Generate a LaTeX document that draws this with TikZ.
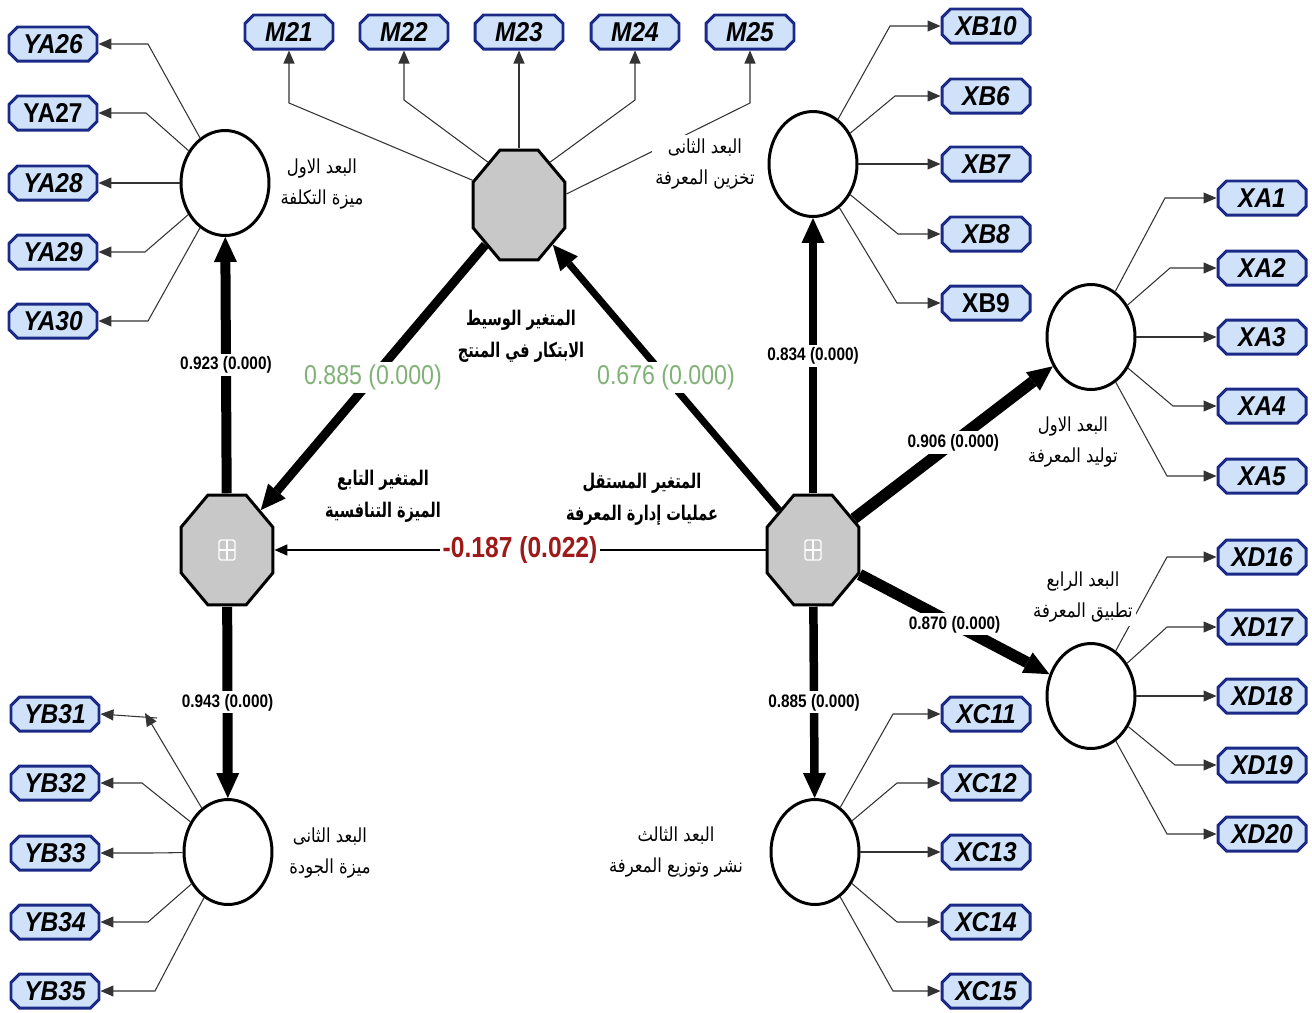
\documentclass[tikz,border=0pt]{standalone}
\usepackage{fontspec}
\setmainfont{Liberation Sans}
\newfontfamily\arabicfont[Script=Arabic,FakeStretch=0.85]{DejaVu Sans}
\newfontfamily\arabicbold[Script=Arabic,FakeStretch=0.72]{DejaVu Sans}
\newfontfamily\narrowfont[FakeStretch=0.85]{Liberation Sans}
\newfontfamily\indfont[FakeStretch=0.9]{Liberation Sans}
\TeXXeTstate=1
\usepackage{tikz}
\usetikzlibrary{arrows.meta,shapes.geometric}

\definecolor{indfill}{RGB}{207,226,249}
\definecolor{inddraw}{RGB}{28,42,135}
\definecolor{lvgray}{RGB}{200,200,200}
\definecolor{coefgreen}{RGB}{128,178,118}
\definecolor{coefred}{RGB}{158,26,26}

\tikzset{
	cutbox/.style={path picture={
		\draw[inddraw, fill=indfill, line width=1.7pt]
			([shift={(0.2cm,-0.85pt)}]path picture bounding box.north west)
			-- ([shift={(-0.2cm,-0.85pt)}]path picture bounding box.north east)
			-- ([shift={(-0.85pt,-0.2cm)}]path picture bounding box.north east)
			-- ([shift={(-0.85pt,0.2cm)}]path picture bounding box.south east)
			-- ([shift={(-0.2cm,0.85pt)}]path picture bounding box.south east)
			-- ([shift={(0.2cm,0.85pt)}]path picture bounding box.south west)
			-- ([shift={(0.85pt,0.2cm)}]path picture bounding box.south west)
			-- ([shift={(0.85pt,-0.2cm)}]path picture bounding box.north west) -- cycle;
	}},
	ind/.style={rectangle, cutbox, minimum width=1.82cm, minimum height=0.74cm,
		inner sep=0pt, outer sep=0pt, font=\indfont\fontsize{15.5}{17}\selectfont\bfseries\itshape},
	indup/.style={ind, font=\indfont\fontsize{15.5}{17}\selectfont\bfseries},
	lv/.style={ellipse, draw, line width=1.7pt, fill=white, minimum width=1.76cm,
		minimum height=2.1cm, inner sep=0pt},
	octo/.style={regular polygon, regular polygon sides=8, minimum size=1.99cm, inner sep=0pt,
		draw, line width=1.7pt, fill=lvgray, yscale=1.196, transform shape},
	load/.style={->, line width=0.6pt, black!80},
	struct/.style={->, >={Triangle[length=0.5cm,width=0.46cm,line width=0pt]}, line width=#1},
	coef/.style={fill=white, inner sep=1.5pt, font=\narrowfont\fontsize{10.3}{12}\selectfont\bfseries},
	bigcoef/.style={fill=white, inner sep=1.5pt, font=\narrowfont\fontsize{15.5}{18}\selectfont},
	dim/.style={fill=white, inner sep=2pt, align=center, font=\arabicfont\fontsize{11}{18.2}\selectfont},
	var/.style={dim, font=\arabicbold\fontsize{11.5}{18.2}\selectfont\bfseries},
}

\begin{document}
\begin{tikzpicture}[x=0.02cm,y=-0.02cm,>={Triangle[length=0.26cm,width=0.22cm]}]
	\useasboundingbox (0,0) rectangle (1312,1012);

	% latent variables
	\node[octo] (M) at (519,205) {};
	\node[octo] (Y) at (227,550) {};
	\node[octo] (X) at (813,550) {};
	\node[lv] (YA) at (225,183) {};
	\node[lv] (YB) at (228,852) {};
	\node[lv] (XB) at (813,164) {};
	\node[lv] (XA) at (1091,337) {};
	\node[lv] (XD) at (1091,696) {};
	\node[lv] (XC) at (815,852) {};
	\foreach \n in {Y,X}{
		\draw[white,line width=0.8pt,rounded corners=1pt]
			([shift={(-8,-10)}]\n.center) rectangle ([shift={(8,10)}]\n.center);
		\draw[white,line width=0.8pt]
			([shift={(-8,0)}]\n.center) -- ([shift={(8,0)}]\n.center)
			([shift={(0,-10)}]\n.center) -- ([shift={(0,10)}]\n.center);
	}

	% indicators
	\foreach \n/\y/\ex/\s in {26/44/148/ind, 27/113/146/indup, 28/183/150/ind, 29/252/145/ind, 30/321/148/ind}{
		\node[\s] (YA\n) at (53,\y) {YA\n};
		\draw[load] (YA) -- (\ex,\y) -- (YA\n.east);
	}
	\node[ind] (YB31) at (55,714) {YB31};
	\coordinate (yb31end) at (157,718);
	\draw[load] (YB) -- (145,713);
	\draw[load] (yb31end) -- (YB31.east);
	\foreach \n/\y/\ex in {32/783/142, 33/853/150, 34/922/148, 35/991/155}{
		\node[ind] (YB\n) at (55,\y) {YB\n};
		\draw[load] (YB) -- (\ex,\y) -- (YB\n.east);
	}
	\foreach \n/\x/\ey/\a in {21/289/103/156, 22/404/100/131, 23/519/100/90, 24/635/100/49, 25/750/103/11}{
		\node[ind] (M\n) at (\x,32) {M\n};
		\draw[load] (M.\a) -- (\x,\ey) -- (M\n.south);
	}
	\foreach \n/\y/\ex/\s in {10/26/890/ind, 6/96/895/ind, 7/164/895/ind, 8/234/898/ind, 9/303/897/indup}{
		\node[\s] (XB\n) at (986,\y) {XB\n};
		\draw[load] (XB) -- (\ex,\y) -- (XB\n.west);
	}
	\foreach \n/\y/\ex in {1/198/1165, 2/268/1170, 3/337/1170, 4/406/1173, 5/476/1167}{
		\node[ind] (XA\n) at (1262,\y) {XA\n};
		\draw[load] (XA) -- (\ex,\y) -- (XA\n.west);
	}
	\foreach \n/\y/\ex in {16/557/1167, 17/627/1167, 18/696/1170, 19/765/1175, 20/834/1167}{
		\node[ind] (XD\n) at (1262,\y) {XD\n};
		\draw[load] (XD) -- (\ex,\y) -- (XD\n.west);
	}
	\foreach \n/\y/\ex in {11/714/893, 12/783/897, 13/852/895, 14/922/897, 15/991/893}{
		\node[ind] (XC\n) at (986,\y) {XC\n};
		\draw[load] (XC) -- (\ex,\y) -- (XC\n.west);
	}

	% structural paths
	\path[struct=0.2cm]
		(Y) edge node[coef] {0.923 (0.000)} (YA)
			edge node[coef] {0.943 (0.000)} (YB)
	;
	\path[struct=0.17cm]
		(X) edge node[coef] {0.834 (0.000)} (XB)
			edge node[coef] {0.885 (0.000)} (XC)
	;
	\path[struct=0.23cm]
		(X) edge node[coef] {0.906 (0.000)} (XA)
			edge node[coef] {0.870 (0.000)} (XD)
	;
	\path[struct=0.18cm] (M) edge node[bigcoef,text=coefgreen] {0.885 (0.000)} (Y);
	\path[struct=0.14cm] (X) edge node[bigcoef,text=coefgreen] {0.676 (0.000)} (M);
	\path[->,line width=1pt]
		(X) edge node[bigcoef,text=coefred,font=\narrowfont\fontsize{16.5}{18}\selectfont\bfseries] {-0.187 (0.022)} (Y)
	;

	% labels
	\node[dim] (yalab) at (322,184) {\beginR البعد الاول\endR\\\beginR ميزة التكلفة\endR};
	\node[dim] (yblab) at (330,853) {\beginR البعد الثانى\endR\\\beginR ميزة الجودة\endR};
	\node[dim] (xblab) at (705,164) {\beginR البعد الثانى\endR\\\beginR تخزين المعرفة\endR};
	\node[dim] (xalab) at (1073,442) {\beginR البعد الاول\endR\\\beginR توليد المعرفة\endR};
	\node[dim] (xdlab) at (1083,597) {\beginR البعد الرابع\endR\\\beginR تطبيق المعرفة\endR};
	\node[dim] (xclab) at (676,852) {\beginR البعد الثالث\endR\\\beginR نشر وتوزيع المعرفة\endR};
	\node[var] (mlab) at (521,336) {\beginR المتغير الوسيط\endR\\\beginR الابتكار في المنتج\endR};
	\node[var] (ylab) at (383,496) {\beginR المتغير التابع\endR\\\beginR الميزة التنافسية\endR};
	\node[var] (xlab) at (642,499) {\beginR المتغير المستقل\endR\\\beginR عمليات إدارة المعرفة\endR};
\end{tikzpicture}
\end{document}
